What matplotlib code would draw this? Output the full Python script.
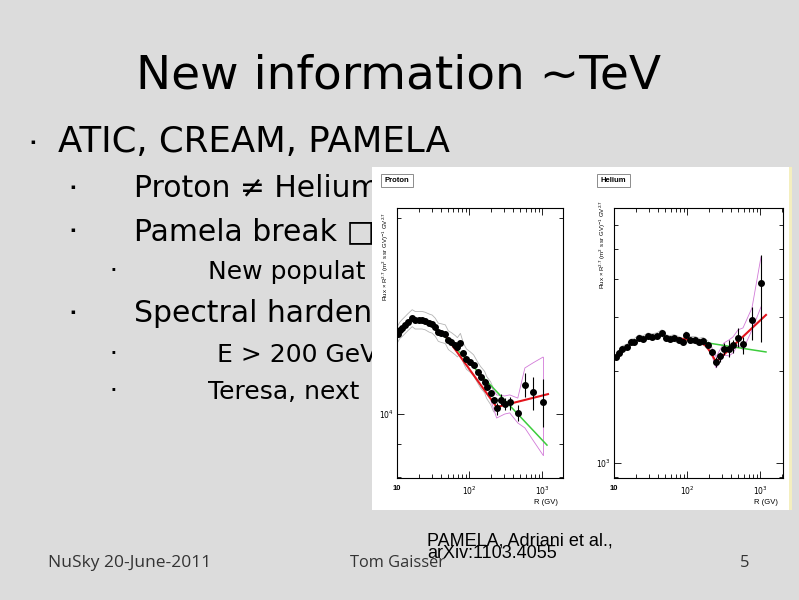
import numpy as np
import matplotlib
matplotlib.use('Agg')
import matplotlib.pyplot as plt
from matplotlib.patches import Rectangle
from matplotlib.ticker import FixedLocator, FixedFormatter, LogLocator, NullFormatter

W, H = 799, 600          # slide size in pixels
BG = '#dcdcdc'

# ──────────────────────────────────────────────────────────────────────
#  SLIDE TEXT
# ──────────────────────────────────────────────────────────────────────
TITLE = 'New information ~TeV'
bullet_level = [0, 1, 1, 2, 1, 2, 2]
bullet_text = ['ATIC, CREAM, PAMELA',
               'Proton \u2260 Helium',
               'Pamela break \u25a1',
               'New populat',
               'Spectral hardeni',
               'E > 200 GeV',
               'Teresa, next']
footer_left = 'NuSky 20-June-2011'
footer_mid = 'Tom Gaisser'
footer_page = '5'
credit = ['PAMELA, Adriani et al.,', 'arXiv:1103.4055']

# ──────────────────────────────────────────────────────────────────────
#  DATA  (flux x R^2.7)
# ──────────────────────────────────────────────────────────────────────
x_ticks = [10, 100, 1000]
x_ticklabels = ['10', '$10^2$', '$10^3$']

# proton
p_R = [10.2, 11.0, 11.7, 12.9, 14.2, 16.2, 17.8, 20.2, 22.2, 24.5, 27.8, 30.6, 33.7,
       37.1, 40.8, 46.4, 51.1, 56.2, 63.9, 68.1, 75.0, 82.5, 90.8, 103, 114, 129,
       142, 162, 172, 196, 215, 237, 270, 306, 359, 464, 581, 750, 1033]
p_flux = [13270, 13460, 13550, 13700, 13850, 14040, 13940, 13940, 13940, 13900, 13800,
          13750, 13600, 13360, 13320, 13270, 12990, 12900, 12760, 12670, 12850, 12410,
          12150, 12020, 11890, 11600, 11400, 11200, 11000, 10770, 10510, 10210, 10510,
          10360, 10430, 10040, 11080, 10810, 10430]
p_sys = [0.029, 0.029, 0.030, 0.030, 0.030, 0.030, 0.031, 0.031, 0.031, 0.031, 0.032,
         0.032, 0.032, 0.032, 0.033, 0.033, 0.033, 0.034, 0.034, 0.034, 0.035, 0.035,
         0.036, 0.036, 0.037, 0.037, 0.038, 0.038, 0.039, 0.040, 0.041]
p_err_lo = [9965, 10320, 10140, 10140, 9755, 10620, 10140, 9550]
p_err_hi = [10400, 10730, 10580, 10620, 10320, 11560, 11400, 11320]
p_env_R = [196, 237, 306, 359, 464, 581, 750, 1033]
p_env_hi = [11040, 10700, 10660, 10700, 10580, 11770, 11980, 12230]
p_env_lo = [10510, 9860, 10000, 10040, 9690, 9520, 9120, 8650]
p_red_R = [43.5, 237, 1211]
p_red = [13320, 10250, 10730]
p_green_R = [43.5, 1172]
p_green = [13230, 8960]
p_yticks = [1e4]
p_yticklabels = ['$10^4$']

# helium
h_R = [10.65, 11.7, 12.9, 15.1, 17.1, 18.8, 22.0, 25.0, 29.2, 33.2, 38.8, 45.5, 51.6,
       58.5, 66.4, 77.7, 88.1, 96.9, 110, 129, 146, 166, 194, 220, 250, 283, 321, 376,
       427, 500, 585, 777, 1032]
h_flux = [2220, 2288, 2358, 2394, 2486, 2486, 2562, 2543, 2600, 2581, 2600, 2660, 2562,
          2543, 2562, 2523, 2486, 2620, 2523, 2523, 2486, 2504, 2430, 2305, 2138, 2237,
          2358, 2358, 2430, 2562, 2448, 2934, 3875]
h_sys = [0.022, 0.022, 0.022, 0.022, 0.022, 0.023, 0.023, 0.023, 0.023, 0.023, 0.024,
         0.024, 0.024, 0.024, 0.025, 0.025, 0.025, 0.026, 0.026, 0.027, 0.027, 0.028,
         0.029, 0.030]
h_err_lo = [2059, 2138, 2254, 2220, 2288, 2394, 2272, 2523, 2486]
h_err_hi = [2220, 2305, 2466, 2523, 2523, 2762, 2581, 3235, 4783]
h_env_R = [220, 250, 283, 321, 376, 427, 500, 585, 777, 1032]
h_env_hi = [2376, 2220, 2341, 2467, 2523, 2581, 2721, 2762, 3211, 4712]
h_env_lo = [2237, 2044, 2138, 2254, 2237, 2288, 2430, 2341, 2721, 3235]
h_red_R = [68.5, 110, 151, 182, 213, 250, 1208]
h_red = [2562, 2523, 2486, 2413, 2288, 2138, 3045]
h_green_R = [68.5, 1208]
h_green = [2562, 2305]
h_yticks = [1e3]
h_yticklabels = ['$10^3$']

YLABEL = 'Flux \u00d7 R$^{2.7}$ (m$^2$ s sr GV)$^{-1}$ GV$^{2.7}$'
RED, GREEN, MAGENTA, GRAY = '#e3141c', '#3ccc3c', '#d27ad8', '#b4b4b4'
CHART_FONT = 'Liberation Sans'


def fx(x):
    return x / W


def fy(y):
    return 1 - y / H


fig = plt.figure(figsize=(W / 100, H / 100), dpi=100, facecolor=BG)

# ── slide title and bullets ─────────────────────────────────────────
fig.text(fx(399), fy(88), TITLE, ha='center', va='baseline',
         fontsize=33.8, family='DejaVu Sans', color='black')

line_base = [152, 197, 240, 279, 322, 362, 399]
line_x = [58, 134, 134, 208, 134, 217, 208]
level_size = {0: 25.6, 1: 21.5, 2: 18}
level_bullet_x = {0: 33, 1: 73, 2: 113}
for lvl, txt, yb, xt in zip(bullet_level, bullet_text, line_base, line_x):
    fig.text(fx(level_bullet_x[lvl]), fy(yb - 10), '\u25aa', ha='center', va='center',
             fontsize=5 if lvl < 2 else 4, family='DejaVu Sans', color='black', zorder=3)
    fig.text(fx(xt), fy(yb), txt, ha='left', va='baseline',
             fontsize=level_size[lvl], family='DejaVu Sans', color='black', zorder=3)

# ── footer ──────────────────────────────────────────────────────────
fig.text(fx(48), fy(567), footer_left, ha='left', va='baseline',
         fontsize=12.5, family='Open Sans', color='#333333')
fig.text(fx(350), fy(567), footer_mid, ha='left', va='baseline',
         fontsize=11.8, family='Open Sans', color='#333333')
fig.text(fx(745), fy(567), footer_page, ha='center', va='baseline',
         fontsize=12, family='Open Sans', color='#333333')
fig.text(fx(427), fy(546), credit[0], ha='left', va='baseline',
         fontsize=13, family=CHART_FONT, color='black', zorder=8)
fig.text(fx(427), fy(558), credit[1], ha='left', va='baseline',
         fontsize=13, family=CHART_FONT, color='black', zorder=8)

# ── embedded figure background ──────────────────────────────────────
fig.patches.append(Rectangle((fx(372), fy(510)), (789 - 372) / W, (510 - 167) / H,
                             transform=fig.transFigure, facecolor='white',
                             edgecolor='none', zorder=5))
fig.patches.append(Rectangle((fx(789), fy(510)), 3 / W, (510 - 167) / H,
                             transform=fig.transFigure, facecolor='#f4efbf',
                             edgecolor='none', zorder=5))


def panel(x0, x1, xlim, ylim, R, F, sys, err_lo, err_hi, env_R, env_hi, env_lo,
          red_R, red, green_R, green, yticks, yticklabels, label, label_x, ylab_top):
    ax = fig.add_axes([fx(x0), fy(478), (x1 - x0) / W, (478 - 208) / H])
    ax.set_zorder(6)
    ax.set_facecolor('white')
    ax.set_xscale('log')
    ax.set_yscale('log')
    ax.set_xlim(*xlim)
    ax.set_ylim(*ylim)

    R = np.asarray(R, float)
    F = np.asarray(F, float)
    ns = len(sys)
    sys = np.asarray(sys)
    ax.plot(R[:ns], F[:ns] * (1 + sys), color=GRAY, lw=0.6, zorder=2)
    ax.plot(R[:ns], F[:ns] * (1 - sys), color=GRAY, lw=0.6, zorder=2)
    ax.plot(env_R, env_hi, color=MAGENTA, lw=0.6, zorder=2)
    ax.plot(env_R, env_lo, color=MAGENTA, lw=0.6, zorder=2)
    ax.plot([env_R[-1], env_R[-1]], [env_lo[-1], env_hi[-1]], color=MAGENTA, lw=0.6, zorder=2)

    ax.plot(green_R, green, color=GREEN, lw=1.1, zorder=3)
    ax.plot(red_R, red, color=RED, lw=1.5, zorder=3)

    nb = len(err_lo)
    ax.vlines(R[-nb:], err_lo, err_hi, color='black', lw=0.8, zorder=4)
    ax.plot(R, F, 'o', color='black', ms=4, mec='black', zorder=5)

    ax.xaxis.set_major_locator(FixedLocator(x_ticks))
    ax.xaxis.set_major_formatter(FixedFormatter(x_ticklabels))
    ax.xaxis.set_minor_locator(LogLocator(base=10, subs=np.arange(2, 10), numticks=30))
    ax.xaxis.set_minor_formatter(NullFormatter())
    ax.yaxis.set_major_locator(FixedLocator(yticks))
    ax.yaxis.set_major_formatter(FixedFormatter(yticklabels))
    ax.yaxis.set_minor_locator(LogLocator(base=10, subs=np.arange(2, 10), numticks=30))
    ax.yaxis.set_minor_formatter(NullFormatter())

    ax.tick_params(which='both', direction='in', top=True, right=True, width=0.6,
                   color='black')
    ax.tick_params(which='major', length=5, labelsize=5.5, pad=2)
    ax.tick_params(which='minor', length=2.8)
    ax.tick_params(axis='x', which='major', pad=5)
    for t in ax.get_xticklabels() + ax.get_yticklabels():
        t.set_family(CHART_FONT)
        t.set_fontweight('bold')
    for s in ax.spines.values():
        s.set_linewidth(0.8)

    ax.text(0.97, -0.076, 'R (GV)', transform=ax.transAxes, ha='right', va='top',
            fontsize=5.5, family=CHART_FONT)
    ax.text(-0.068, ylab_top, YLABEL, transform=ax.transAxes, rotation=90,
            ha='center', va='top', fontsize=4.3, family=CHART_FONT)
    fig.text(fx(label_x), fy(180.5), label, ha='center', va='center', fontsize=5.5,
             family=CHART_FONT, fontweight='bold', zorder=8,
             bbox=dict(boxstyle='square,pad=0.45', fc='white', ec='#8c8c8c', lw=0.7))
    return ax


panel(397, 563, (10, 1950), (7976, 20720), p_R, p_flux, p_sys, p_err_lo, p_err_hi,
      p_env_R, p_env_hi, p_env_lo, p_red_R, p_red, p_green_R, p_green,
      p_yticks, p_yticklabels, 'Proton', 397, 0.985)
panel(614, 783, (10, 2066), (893, 6808), h_R, h_flux, h_sys, h_err_lo, h_err_hi,
      h_env_R, h_env_hi, h_env_lo, h_red_R, h_red, h_green_R, h_green,
      h_yticks, h_yticklabels, 'Helium', 613.5, 1.03)

fig.savefig('out.png', dpi=100, facecolor=BG)
